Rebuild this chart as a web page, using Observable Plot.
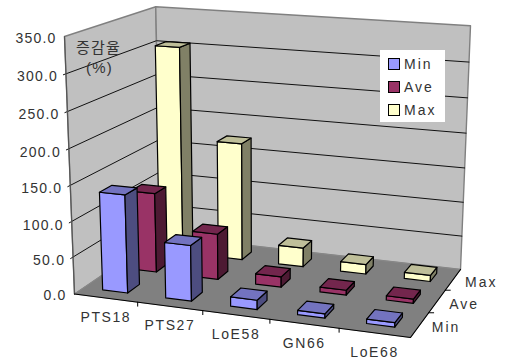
<!DOCTYPE html>
<html>
<head>
<meta charset="utf-8">
<script src="https://cdn.jsdelivr.net/npm/d3@7"></script>
<script src="https://cdn.jsdelivr.net/npm/@observablehq/plot@0.6"></script>
<style>
  html, body { margin: 0; padding: 0; background: #fff; }
  #chart { position: relative; width: 506px; height: 363px; overflow: hidden; }
  #legend { position: absolute; left: 380px; top: 50px; width: 65px; height: 72px; background: #fff;
            font: 14px "Liberation Sans", Arial, sans-serif; letter-spacing: 2px; color: #333; }
  #legend div { position: absolute; left: 24px; line-height: 16px; white-space: nowrap; }
  #legend i { position: absolute; left: 8px; width: 10px; height: 10px; border: 1px solid #000; }
</style>
</head>
<body>
<div id="chart"></div>
<script>
// Chart values
const categories = ["PTS18", "PTS27", "LoE58", "GN66", "LoE68"];
const seriesNames = ["Min", "Ave", "Max"];
const minValues = [138, 78, 13, 6, 6];
const aveValues = [115, 66, 15, 7, 6];
const maxValues = [305, 173, 28, 14, 9];
const valueTicks = [0, 50, 100, 150, 200, 250, 300, 350];
const valueMax = 350;
const yAxisTitle = ["증감율", "(%)"];

// Front, side and top shades per series
const seriesFront = ["#9999ff", "#993366", "#ffffcc"];
const seriesSide = ["#4d4d80", "#4d1a33", "#808066"];
const seriesTop = ["#7373bf", "#73264d", "#bfbf99"];

// Corners of the perspective box that holds the chart
const cornerA = [74, 293.5], cornerB = [410, 337], cornerC = [460, 269], cornerD = [160, 235];
const topA = [64, 36], topC = [470, 24.5];

// Projective map from the unit cube (u along categories, v in depth, w up) to the page
const dx1 = cornerB[0] - cornerC[0], dx2 = cornerD[0] - cornerC[0];
const dy1 = cornerB[1] - cornerC[1], dy2 = cornerD[1] - cornerC[1];
const sx = cornerA[0] - cornerB[0] + cornerC[0] - cornerD[0];
const sy = cornerA[1] - cornerB[1] + cornerC[1] - cornerD[1];
const den = dx1 * dy2 - dx2 * dy1;
const g1 = (sx * dy2 - dx2 * sy) / den;
const g2 = (dx1 * sy - sx * dy1) / den;
const rowW = 1 + g1 + g2;
const g3 = (rowW * (topC[0] - cornerC[0]) + cornerA[0] - topA[0]) / (topA[0] - topC[0]);
const coef = [0, 1].map(k => [
  cornerA[k],
  cornerB[k] * (1 + g1) - cornerA[k],
  cornerD[k] * (1 + g2) - cornerA[k],
  topA[k] * (1 + g3) - cornerA[k]
]);
function project(u, v, w) {
  const d = 1 + g1 * u + g2 * v + g3 * w;
  return coef.map(c => (c[0] + c[1] * u + c[2] * v + c[3] * w) / d);
}
const pt = (u, v, w, extra) => { const [x, y] = project(u, v, w); return {x, y, ...extra}; };

// Each face is a closed point list tagged with an id so Plot.line keeps it apart
function closedFace(corners, extra) {
  return [...corners, corners[0]].map(([u, v, w]) => pt(u, v, w, extra));
}

const wallFaces = [
  ...closedFace([[0, 0, 0], [0, 1, 0], [0, 1, 1], [0, 0, 1]], {id: "side"}),
  ...closedFace([[0, 1, 0], [1, 1, 0], [1, 1, 1], [0, 1, 1]], {id: "back"})
];
const floorFace = closedFace([[0, 0, 0], [1, 0, 0], [1, 1, 0], [0, 1, 0]], {id: "floor"});

// Gridlines run along the side wall and the back wall
const gridPoints = valueTicks.filter(t => t > 0 && t < valueMax).flatMap(t => {
  const w = t / valueMax;
  return [[-0.008, 0, w], [0, 1, w], [1, 1, w]].map(([u, v, ww]) => pt(u, v, ww, {t}));
});

// Bars, painted from the back row forward and left to right within a row
const barGap = 0.3;
const seriesValues = [minValues, aveValues, maxValues];
const faces = [];
for (let s = seriesNames.length - 1; s >= 0; s--) {
  categories.forEach((_, c) => {
    const u0 = (c + barGap) / categories.length, u1 = (c + 1 - barGap) / categories.length;
    const v0 = (s + barGap) / seriesNames.length, v1 = (s + 1 - barGap) / seriesNames.length;
    const w = seriesValues[s][c] / valueMax;
    const tag = (part, fill) => ({id: `${s}-${c}-${part}`, fill});
    faces.push(
      ...closedFace([[u0, v0, 0], [u1, v0, 0], [u1, v0, w], [u0, v0, w]], tag("front", seriesFront[s])),
      ...closedFace([[u1, v0, 0], [u1, v1, 0], [u1, v1, w], [u1, v0, w]], tag("side", seriesSide[s])),
      ...closedFace([[u0, v0, w], [u1, v0, w], [u1, v1, w], [u0, v1, w]], tag("top", seriesTop[s]))
    );
  });
}

const valueLabels = valueTicks.map(t => pt(0, 0, t / valueMax, {label: t.toFixed(1)}));
const categoryLabels = categories.map((label, c) => pt((c + 0.5) / categories.length, 0, 0, {label}));
const seriesLabels = seriesNames.map((label, s) => pt(1, (s + 0.5) / seriesNames.length, 0, {label}));

const categoryTicks = d3.range(1, categories.length).flatMap(c => {
  const p = pt(c / categories.length, 0, 0, {c});
  return [p, {x: p.x, y: p.y + 4, c}];
});
const seriesTicks = d3.range(1, seriesNames.length).flatMap(s => {
  const p = pt(1, s / seriesNames.length, 0, {s});
  return [p, {x: p.x + 5, y: p.y, s}];
});
const edgeFront = [pt(0, 0, 0), pt(1, 0, 0), pt(1, 1, 0)];
const edgeLeft = [pt(0, 0, 0), pt(0, 0, 1)];

const labelFont = {fontSize: 14, fill: "#333"};

const plot = Plot.plot({
  width: 506,
  height: 363,
  margin: 0,
  x: {domain: [0, 506], range: [0, 506], axis: null},
  y: {domain: [0, 363], range: [0, 363], axis: null},
  style: {background: "transparent", fontFamily: "'Liberation Sans', Arial, sans-serif", letterSpacing: "1.2px"},
  marks: [
    Plot.line(wallFaces, {x: "x", y: "y", z: "id", fill: "#c0c0c0", stroke: "#808080", strokeWidth: 1.4}),
    Plot.line(gridPoints, {x: "x", y: "y", z: "t", stroke: "#111", strokeWidth: 1}),
    Plot.line(floorFace, {x: "x", y: "y", fill: "#808080", stroke: "#8a8a8a", strokeWidth: 0.8}),
    Plot.line(edgeLeft, {x: "x", y: "y", stroke: "#555", strokeWidth: 1.2}),
    Plot.line(edgeFront, {x: "x", y: "y", stroke: "#000", strokeWidth: 1.2}),
    Plot.line(categoryTicks, {x: "x", y: "y", z: "c", stroke: "#000", strokeWidth: 1}),
    Plot.line(seriesTicks, {x: "x", y: "y", z: "s", stroke: "#000", strokeWidth: 1}),
    Plot.line(faces, {x: "x", y: "y", z: "id", fill: "fill", stroke: "#000", strokeWidth: 1.2, strokeLinejoin: "round"}),
    Plot.text(valueLabels, {x: "x", y: "y", text: "label", textAnchor: "end", dx: -8, dy: 2, ...labelFont}),
    Plot.text(categoryLabels, {x: "x", y: "y", text: "label", dy: 19.5, ...labelFont}),
    Plot.text(seriesLabels, {x: "x", y: "y", text: "label", textAnchor: "start", dx: 12, dy: 3, ...labelFont}),
    Plot.text([yAxisTitle[0]], {x: () => 98, y: () => 48, text: d => d, fontSize: 15, fill: "#333", fontFamily: "'Noto Sans CJK KR'"}),
    Plot.text([yAxisTitle[1]], {x: () => 99, y: () => 68, text: d => d, fontSize: 15, fill: "#333"})
  ]
});

// Wider tracking on the category and series labels
const textGroups = plot.querySelectorAll('g[aria-label="text"]');
textGroups[1].style.letterSpacing = "1.6px";
textGroups[2].style.letterSpacing = "2px";

const chart = document.getElementById("chart");
chart.appendChild(plot);

// Legend box sitting over the back wall
const legend = document.createElement("div");
legend.id = "legend";
seriesNames.forEach((name, i) => {
  const swatch = document.createElement("i");
  swatch.style.top = (8 + i * 23) + "px";
  swatch.style.background = seriesFront[i];
  const text = document.createElement("div");
  text.textContent = name;
  text.style.top = (6 + i * 23) + "px";
  legend.append(swatch, text);
});
chart.appendChild(legend);
</script>
</body>
</html>
